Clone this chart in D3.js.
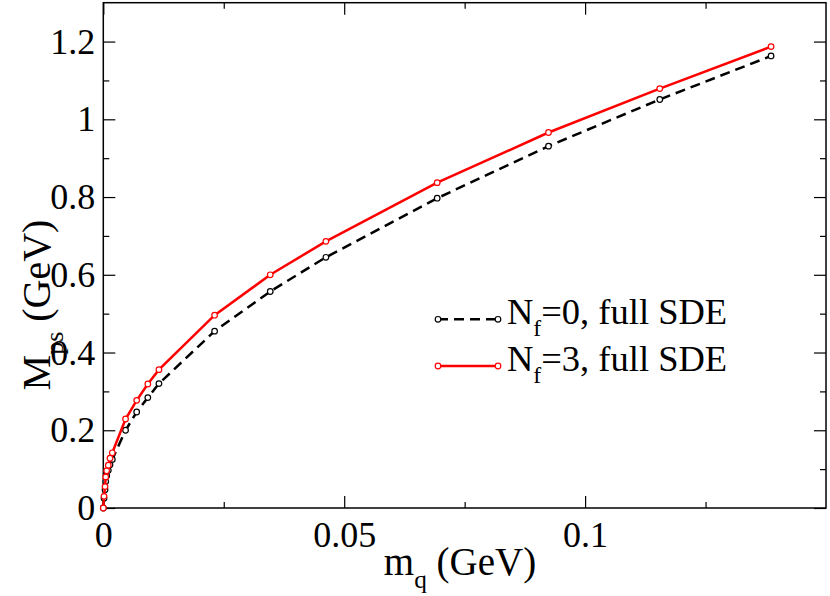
<!DOCTYPE html>
<html><head><meta charset="utf-8">
<script src="https://cdn.jsdelivr.net/npm/d3@7"></script>
<style>body{margin:0;background:#fff}svg{display:block}svg text{font-family:"Liberation Serif","Times New Roman",serif !important}</style>
</head><body>
<svg id="c" width="830" height="596"></svg>
<script>
// Data
const mq = [0, 0.00015, 0.00036, 0.0005, 0.0007, 0.00104, 0.00139, 0.00187, 0.00462, 0.00693, 0.00924, 0.01155, 0.0231, 0.03465, 0.0462, 0.0693, 0.0924, 0.1155, 0.1386];
const mpsNf0 = [0, 0.025, 0.047, 0.068, 0.083, 0.097, 0.111, 0.125, 0.200, 0.247, 0.284, 0.320, 0.455, 0.557, 0.645, 0.797, 0.931, 1.051, 1.163];
const mpsNf3 = [0, 0.030, 0.055, 0.080, 0.096, 0.110, 0.128, 0.142, 0.229, 0.277, 0.319, 0.356, 0.496, 0.600, 0.686, 0.837, 0.966, 1.079, 1.187];
const xMajor = [0, 0.05, 0.1];
const xMinor = [0.025, 0.075, 0.125];
const yMajor = [0, 0.2, 0.4, 0.6, 0.8, 1.0, 1.2];
const yMinor = [0.1, 0.3, 0.5, 0.7, 0.9, 1.1];
const series = [
  {sub: "f", label: "=0, full SDE", values: mpsNf0, color: "#000", dash: "10,6"},
  {sub: "f", label: "=3, full SDE", values: mpsNf3, color: "#ff0000", dash: null}
];

const svg = d3.select("#c");
const L = 103.3, R = 826, T = 2.7, B = 508;
const x = d3.scaleLinear().domain([0, 0.15]).range([L, R]);
const y = d3.scaleLinear().domain([0, 1.3]).range([B, T]);
const fmt = d => d === 0 ? "0" : String(+d.toFixed(3));
const tickFont = 36, xTitleFont = 39, yTitleFont = 40, legFont = 36.5;
const MAJ = 12, MIN = 6;

function styleAxis(g){ g.select(".domain").remove(); g.selectAll("line").attr("stroke","#000").attr("stroke-width",1.2); }

// bottom
svg.append("g").attr("transform",`translate(0,${B})`)
  .call(d3.axisBottom(x).tickValues(xMajor).tickSize(-MAJ).tickPadding(13).tickFormat(fmt))
  .call(styleAxis).call(g=>g.selectAll("text").attr("font-size",tickFont).attr("fill","#000"));
svg.append("g").attr("transform",`translate(0,${B})`)
  .call(d3.axisBottom(x).tickValues(xMinor).tickSize(-MIN).tickFormat(""))
  .call(styleAxis);
// top
svg.append("g").attr("transform",`translate(0,${T})`)
  .call(d3.axisTop(x).tickValues(xMajor).tickSize(-MAJ).tickFormat("")).call(styleAxis);
svg.append("g").attr("transform",`translate(0,${T})`)
  .call(d3.axisTop(x).tickValues(xMinor).tickSize(-MIN).tickFormat("")).call(styleAxis);
// left
svg.append("g").attr("transform",`translate(${L},0)`)
  .call(d3.axisLeft(y).tickValues(yMajor).tickSize(-MAJ).tickPadding(8).tickFormat(fmt))
  .call(styleAxis).call(g=>g.selectAll("text").attr("font-size",tickFont).attr("fill","#000"));
svg.append("g").attr("transform",`translate(${L},0)`)
  .call(d3.axisLeft(y).tickValues(yMinor).tickSize(-MIN).tickFormat("")).call(styleAxis);
// right
svg.append("g").attr("transform",`translate(${R},0)`)
  .call(d3.axisRight(y).tickValues(yMajor).tickSize(-MAJ).tickFormat("")).call(styleAxis);
svg.append("g").attr("transform",`translate(${R},0)`)
  .call(d3.axisRight(y).tickValues(yMinor).tickSize(-MIN).tickFormat("")).call(styleAxis);

// frame
svg.append("rect").attr("x",L).attr("y",T).attr("width",R-L).attr("height",B-T)
  .attr("fill","none").attr("stroke","#000").attr("stroke-width",1.5);

// lines
const line = d3.line().x(d=>x(d[0])).y(d=>y(d[1]));
series.forEach(s=>{
  const pts = mq.map((m,i)=>[m, s.values[i]]);
  svg.append("path").datum(pts).attr("d",line).attr("fill","none")
    .attr("stroke",s.color).attr("stroke-width",2.5).attr("stroke-dasharray",s.dash);
  svg.append("g").selectAll("circle").data(pts).join("circle")
    .attr("cx",d=>x(d[0])).attr("cy",d=>y(d[1])).attr("r",2.8)
    .attr("fill","#fff").attr("stroke",s.color).attr("stroke-width",1.2);
});

// legend
const legY = [319.3, 366];
series.forEach((s,i)=>{
  const g = svg.append("g");
  g.append("line").attr("x1",438).attr("x2",498).attr("y1",legY[i]).attr("y2",legY[i])
    .attr("stroke",s.color).attr("stroke-width",2.5).attr("stroke-dasharray",s.dash);
  [438,498].forEach(cx=>g.append("circle").attr("cx",cx).attr("cy",legY[i]).attr("r",2.8)
    .attr("fill","#fff").attr("stroke",s.color).attr("stroke-width",1.2));
  const t = g.append("text").attr("x",507).attr("y",legY[i]+5).attr("font-size",legFont).attr("fill","#000");
  t.append("tspan").text("N");
  t.append("tspan").attr("dy",12).attr("font-size",legFont*0.65).text(s.sub);
  t.append("tspan").attr("dy",-12).text(s.label);
});

// axis titles
const xt = svg.append("text").attr("x",460).attr("y",575).attr("text-anchor","middle").attr("font-size",xTitleFont);
xt.append("tspan").text("m");
xt.append("tspan").attr("dy",13).attr("font-size",xTitleFont*0.65).text("q");
xt.append("tspan").attr("dy",-13).text(" (GeV)");

const yt = svg.append("text").attr("transform",`translate(50,305) rotate(-90)`).attr("text-anchor","middle").attr("font-size",yTitleFont);
yt.append("tspan").text("M");
yt.append("tspan").attr("dy",13).attr("font-size",yTitleFont*0.65).text("ps");
yt.append("tspan").attr("dy",-13).text(" (GeV)");
</script>
</body></html>
